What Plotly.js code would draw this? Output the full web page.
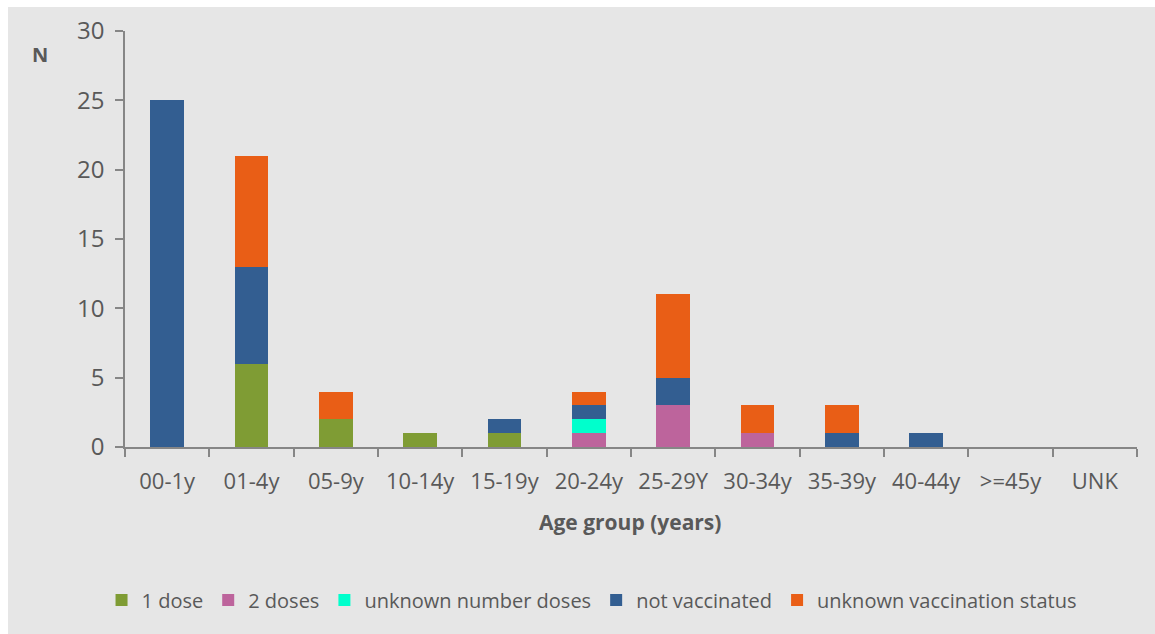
<!DOCTYPE html>
<html>
<head>
<meta charset="utf-8">
<script src="https://cdn.plot.ly/plotly-3.0.1.min.js"></script>
<style>
html,body{margin:0;padding:0;background:#ffffff;}
#chart{position:absolute;left:8px;top:7px;width:1147px;height:627px;}
</style>
</head>
<body>
<div id="chart"></div>
<script>
var categories = ["00-1y","01-4y","05-9y","10-14y","15-19y","20-24y","25-29Y","30-34y","35-39y","40-44y",">=45y","UNK"];
var oneDose        = [0,6,2,1,1,0,0,0,0,0,0,0];
var twoDoses       = [0,0,0,0,0,1,3,1,0,0,0,0];
var unknownDoses   = [0,0,0,0,0,1,0,0,0,0,0,0];
var notVaccinated  = [25,7,0,0,1,1,2,0,1,1,0,0];
var unknownStatus  = [0,8,2,0,0,1,6,2,2,0,0,0];
var yTicks = [0,5,10,15,20,25,30];

var series = [
  {name:"1 dose", y:oneDose, color:"#7f9c34"},
  {name:"2 doses", y:twoDoses, color:"#bd649c"},
  {name:"unknown number doses", y:unknownDoses, color:"#00ffcc"},
  {name:"not vaccinated", y:notVaccinated, color:"#335e91"},
  {name:"unknown vaccination status", y:unknownStatus, color:"#e95e16"}
];
var traces = series.map(function(s){
  return {type:"bar", name:s.name, x:categories, y:s.y,
    marker:{color:s.color, line:{width:0}}, hoverinfo:"x+y+name"};
});
var fontFam = "'Open Sans', 'Noto Sans', sans-serif";
var layout = {
  barmode:"stack",
  bargap:0.6,
  paper_bgcolor:"#e6e6e6",
  plot_bgcolor:"#e6e6e6",
  margin:{l:117,r:18,t:24,b:187, autoexpand:false},
  font:{family:fontFam, color:"#595959", size:20},
  showlegend:true,
  legend:{orientation:"h", x:0.461, xanchor:"center", y:-0.368, yanchor:"middle",
    font:{size:20, color:"#595959"}, traceorder:"normal", itemwidth:30, bgcolor:"rgba(0,0,0,0)"},
  xaxis:{type:"category", showline:true, linecolor:"#868686", linewidth:1.5, automargin:false,
    ticks:"outside", tickson:"boundaries", ticklen:8, tickcolor:"#868686", tickwidth:1.5,
    ticklabelstandoff:14,
    showgrid:false, zeroline:false, tickfont:{size:22, color:"#595959"}},
  yaxis:{range:[0,30], tickvals:yTicks, showline:true, linecolor:"#868686", linewidth:1.5, automargin:false,
    ticks:"outside", ticklen:8, tickcolor:"#868686", tickwidth:1.5, ticklabelstandoff:6,
    showgrid:false, zeroline:false, tickfont:{size:24, color:"#595959"}},
  annotations:[
    {text:"<b>N</b>", xref:"paper", yref:"paper", x:-0.084, y:0.944, xanchor:"center", yanchor:"middle",
      showarrow:false, font:{size:20, color:"#595959"}},
    {text:"<b>Age group (years)</b>", xref:"paper", yref:"paper", x:0.499, y:-0.18, xanchor:"center", yanchor:"middle",
      showarrow:false, font:{size:21, color:"#595959"}}
  ]
};
Plotly.newPlot("chart", traces, layout, {displayModeBar:false, responsive:false});
</script>
</body>
</html>
